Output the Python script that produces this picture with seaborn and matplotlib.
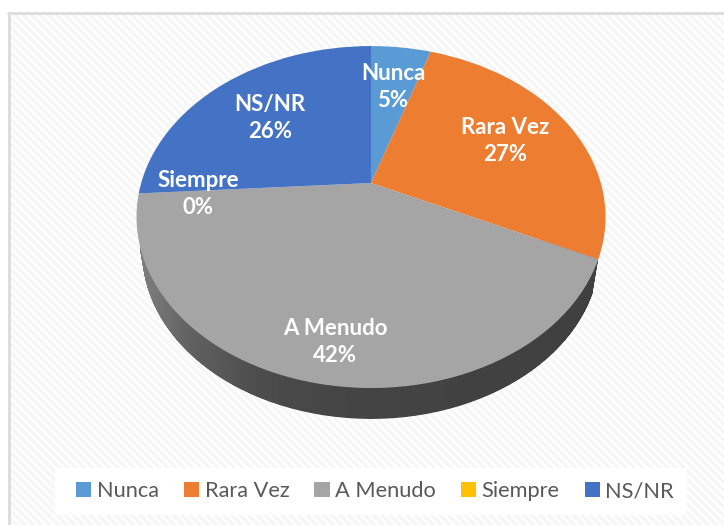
import numpy as np
import matplotlib
matplotlib.use("Agg")
import matplotlib.pyplot as plt
import matplotlib.transforms as mtransforms
from matplotlib.patches import Rectangle, Patch
from matplotlib.path import Path
import seaborn as sns

categories = ["Nunca", "Rara Vez", "A Menudo", "Siempre", "NS/NR"]
values = [5, 27, 42, 0, 26]
colors = ["#5B9BD5", "#ED7D31", "#A5A5A5", "#FFC000", "#4472C4"]

sns.set_theme(style="white")
plt.rcParams["font.family"] = ["Lato", "DejaVu Sans"]
plt.rcParams["hatch.linewidth"] = 2.2


# perspective tilt of the unit pie, output in image pixels
class Tilt(mtransforms.Transform):
    input_dims = 2
    output_dims = 2

    def __init__(self, scale=1.0, drop=0.0):
        super().__init__()
        self.scale = scale
        self.drop = drop

    def transform_non_affine(self, values):
        x, y = values[:, 0], values[:, 1]
        w = 1 + 0.199 * y
        sx = 371 + self.scale * 229.8 * x / w
        sy = 183 + self.drop - self.scale * 164.2 * y / w
        return np.column_stack([sx, sy])


fig = plt.figure(figsize=(7.24, 5.25), dpi=100, facecolor="white")
ax = fig.add_axes([0, 0, 1, 1])

# hatched chart panel
ax.add_patch(Rectangle((9, 14), 720, 520, facecolor="white", edgecolor="#f6f6f6",
                       hatch="\\\\\\\\", linewidth=0, zorder=0))
ax.plot([9, 9], [530, 13], color="#dcdcdc", lw=2, zorder=0.5)
ax.plot([8, 730], [13, 13], color="#dcdcdc", lw=2, zorder=0.5)
ax.add_patch(Rectangle((55, 468), 632, 47, facecolor="white", edgecolor="none", zorder=0.6))

# top face
wedges, _ = ax.pie(values, colors=sns.color_palette(colors), startangle=90,
                   counterclock=False, wedgeprops={"linewidth": 0})
top = Tilt()
for w in wedges:
    w.set_transform(top + ax.transData)
    w.set_zorder(3)

# side wall, swept from the top face down for the biggest slice
menudo = wedges[categories.index("A Menudo")]
menudo_path = menudo.get_patch_transform().transform_path(menudo.get_path())
layers = []
for f in np.linspace(0, 1, 40):
    layers.append(Tilt(1 - 0.025 * f, 36 * f).transform_path(menudo_path))
side_path = Path.make_compound_path(*layers)

# lighter on the far left, flat dark from the middle on
shade = np.interp(np.linspace(140, 600, 256), [140, 190, 260, 340, 600],
                  [0.50, 0.38, 0.30, 0.27, 0.25])
img = ax.imshow(shade[None, :], cmap="gray", vmin=0, vmax=1, aspect="auto",
                extent=(140, 600, 430, 240), zorder=2)
img.set_clip_path(side_path, ax.transData)

ax.set_xlim(0, 724)
ax.set_ylim(525, 0)
ax.set_aspect("auto")
ax.axis("off")

# data labels
label_pos = [(393, 87), (505, 141), (335, 342), (198, 194), (270, 118)]
for name, val, (x, y) in zip(categories, values, label_pos):
    ax.text(x, y, f"{name}\n{val}%", color="white", fontsize=16, fontweight="bold",
            ha="center", va="center", linespacing=1.3, zorder=5)

handles = [Patch(facecolor=c, edgecolor="none") for c in colors]
leg = ax.legend(handles, categories, ncols=5, loc="center", frameon=False,
                bbox_to_anchor=(375 / 724, 1 - 491 / 525), fontsize=15.7,
                labelcolor="#595959", handlelength=0.7, handleheight=0.7,
                handletextpad=0.25, columnspacing=1.15)
leg.set_zorder(6)

fig.savefig("out.png", dpi=100)
